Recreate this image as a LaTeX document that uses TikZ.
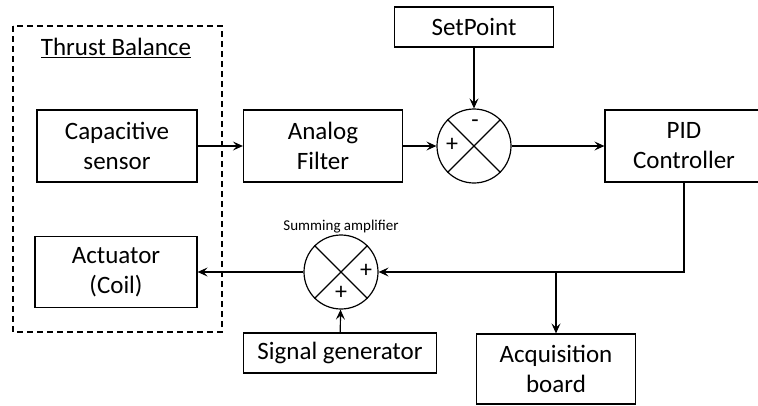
\documentclass[tikz,border=0pt]{standalone}
\usepackage{fontspec}
\setmainfont{Carlito}
\usetikzlibrary{arrows.meta}

\tikzset{
  block/.style={draw, line width=1.2pt, align=center, font=\fontsize{25}{30}\selectfont},
  sumnode/.style={draw, circle, line width=1.2pt, minimum size=74pt, inner sep=0pt},
  sig/.style={font=\fontsize{24}{24}\selectfont, inner sep=0pt},
  link/.style={line width=1.2pt, -{Stealth[length=10pt,width=9pt,inset=4pt]}}
}

\begin{document}
\begin{tikzpicture}[x=1pt,y=-1pt]
    \useasboundingbox (0,0) rectangle (758,405);

    % Thrust balance frame
    \draw[dashed, line width=1.5pt, dash pattern=on 6pt off 4pt] (13,26) rectangle (222,332);
    \node[font=\fontsize{25}{30}\selectfont] (tbal) at (116,48) {\underline{Thrust Balance}};

    % Blocks
    \node[block, minimum width=160pt, minimum height=72pt] (sensor) at (117,146) {Capacitive\\sensor};
    \node[block, minimum width=159pt, minimum height=72pt] (filter) at (323,146) {Analog\\Filter};
    \node[block, minimum width=159pt, minimum height=40pt] (setp) at (474,27) {SetPoint};
    \node[block, minimum width=158pt, minimum height=72pt] (pid) at (684,146) {PID\\Controller};
    \node[block, minimum width=162pt, minimum height=71pt] (act) at (116,272) {Actuator\\(Coil)};
    \node[block, minimum width=193pt, minimum height=40pt] (sgen) at (340,353) {Signal generator};
    \node[block, minimum width=159pt, minimum height=70pt] (acq) at (556,369) {Acquisition\\board};

    % Summing junctions
    \node[sumnode] (cmp) at (474,146) {};
    \draw[line width=1.2pt] (cmp.north west) -- (cmp.south east) (cmp.north east) -- (cmp.south west);
    \node[sig] (cmpp) at (452,145) {+};
    \node[sig] (cmpm) at (475,124) {-};

    \node[sumnode] (amp) at (341,272) {};
    \draw[line width=1.2pt] (amp.north west) -- (amp.south east) (amp.north east) -- (amp.south west);
    \node[sig] (ampr) at (366,271) {+};
    \node[sig] (ampb) at (341,293) {+};
    \node[font=\fontsize{15}{16}\selectfont] (amplbl) at (341,227) {Summing amplifier};

    % Connections
    \draw[link] (sensor) -- (filter);
    \draw[link] (filter) -- (cmp);
    \draw[link] (setp) -- (cmp);
    \draw[link] (cmp) -- (pid);
    \coordinate (tap) at (acq.north |- amp.east);
    \draw[link] (pid.south) |- (amp.east);
    \draw[link] (tap) -- (acq.north);
    \draw[link] (amp) -- (act);
    \draw[link] (sgen) -- (amp);
\end{tikzpicture}
\end{document}
